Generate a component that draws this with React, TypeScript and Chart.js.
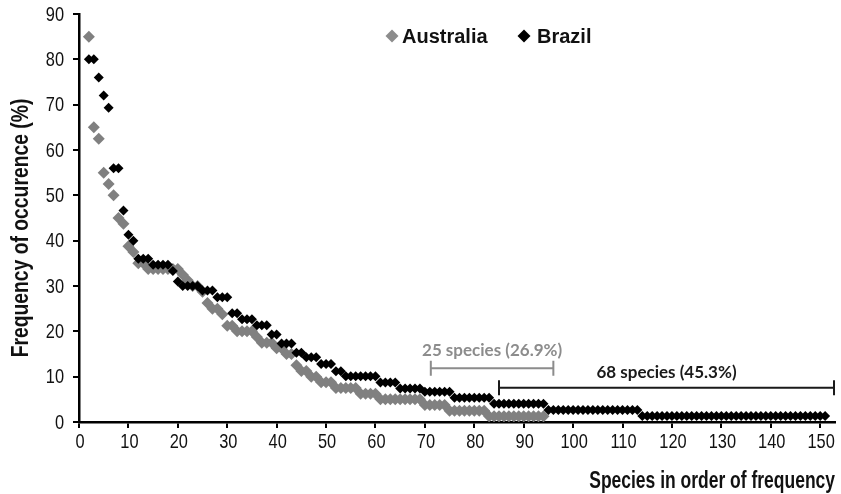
import React, { useEffect, useRef } from 'react';
import { Chart, registerables } from 'chart.js';

Chart.register(...registerables);

// ---- data ----
const FIRST_RANK = 2; // species ranks in the source chart start at 2
const seriesNames = ['Australia', 'Brazil'];

const australiaFreq = [
  85, 65, 62.5, 55, 52.5, 50, 45, 43.75, 38.75, 37.5, 35, 35,
  33.75, 33.75, 33.75, 33.75, 33.75, 33.75, 33.75,
  32.5, 31.25, 30, 30, 28.75, 26.25, 25, 25, 23.75, 21.25, 21.25,
  20, 20, 20, 20, 18.75, 17.5, 17.5, 17.5, 16.25, 16.25, 15, 15,
  12.5, 11.25, 11.25, 10, 10, 8.75, 8.75, 8.75,
  7.5, 7.5, 7.5, 7.5, 7.5, 6.25, 6.25, 6.25, 6.25,
  5, 5, 5, 5, 5, 5, 5, 5, 5,
  3.75, 3.75, 3.75, 3.75, 3.75,
  2.5, 2.5, 2.5, 2.5, 2.5, 2.5, 2.5, 2.5,
  1.25, 1.25, 1.25, 1.25, 1.25, 1.25, 1.25, 1.25, 1.25, 1.25, 1.25, 1.25,
];

const brazilFreq = [
  80, 80, 76, 72, 69.33, 56, 56, 46.67, 41.33, 40,
  36, 36, 36, 34.67, 34.67, 34.67, 34.67, 33.33, 31,
  30, 30, 30, 30, 29, 29, 29, 27.5, 27.5, 27.5,
  24, 24, 22.67, 22.67, 22.67, 21.33, 21.33, 21.33, 19.3, 19.3,
  17.3, 17.3, 17.3, 15.3, 15.3, 14.3, 14.3, 14.3, 12.8, 12.8, 12.8,
  11.2, 11.2, 10.1, 10.1, 10.1, 10.1, 10.1, 10.1, 10.1,
  8.7, 8.7, 8.7, 8.7, 7.4, 7.4, 7.4, 7.4, 7.4,
  6.67, 6.67, 6.67, 6.67, 6.67, 6.67,
  5.33, 5.33, 5.33, 5.33, 5.33, 5.33, 5.33, 5.33,
  4, 4, 4, 4, 4, 4, 4, 4, 4, 4, 4,
  2.67, 2.67, 2.67, 2.67, 2.67, 2.67, 2.67, 2.67, 2.67, 2.67,
  2.67, 2.67, 2.67, 2.67, 2.67, 2.67, 2.67, 2.67, 2.67,
  1.33, 1.33, 1.33, 1.33, 1.33, 1.33, 1.33, 1.33, 1.33, 1.33,
  1.33, 1.33, 1.33, 1.33, 1.33, 1.33, 1.33, 1.33, 1.33, 1.33,
  1.33, 1.33, 1.33, 1.33, 1.33, 1.33, 1.33, 1.33, 1.33, 1.33,
  1.33, 1.33, 1.33, 1.33, 1.33, 1.33, 1.33, 1.33,
];

const xTickValues = [0, 10, 20, 30, 40, 50, 60, 70, 80, 90, 100, 110, 120, 130, 140, 150];
const yTickValues = [0, 10, 20, 30, 40, 50, 60, 70, 80, 90];

const bracketLabels = ['25 species (26.9%)', '68 species (45.3%)'];
const bracketFrom = [71.2, 85];
const bracketTo = [96, 152.8];
const bracketLevel = [11.85, 7.55];

const xTitle = 'Species in order of frequency';
const yTitle = 'Frequency of occurence (%)';

// ---- styles ----
const GRAY = '#808080';
const BLACK = '#000000';
const SANS = "'Liberation Sans', Arial, sans-serif";
const LABEL_FONT = "Lato, 'Open Sans', sans-serif";

function toPoints(values: number[]) {
  return values.map((v, i) => ({ x: FIRST_RANK + i, y: v }));
}

function diamond(ctx: CanvasRenderingContext2D, cx: number, cy: number, r: number, color: string) {
  ctx.beginPath();
  ctx.moveTo(cx - r, cy);
  ctx.lineTo(cx, cy - r);
  ctx.lineTo(cx + r, cy);
  ctx.lineTo(cx, cy + r);
  ctx.closePath();
  ctx.fillStyle = color;
  ctx.fill();
}

// condensed text: regular face squeezed horizontally
function narrowText(
  ctx: CanvasRenderingContext2D, text: string, x: number, y: number,
  sx: number, align: CanvasTextAlign, rotate = 0,
) {
  ctx.save();
  ctx.translate(x, y);
  if (rotate) ctx.rotate(rotate);
  ctx.scale(sx, 1);
  ctx.textAlign = align;
  ctx.textBaseline = 'middle';
  ctx.fillText(text, 0, 0);
  ctx.restore();
}

const overlayPlugin = {
  id: 'overlay',
  afterDraw(chart: any) {
    const { ctx } = chart;
    const xs = chart.scales.x;
    const ys = chart.scales.y;
    ctx.save();

    // tick labels
    ctx.fillStyle = '#111';
    ctx.font = `21px ${SANS}`;
    xTickValues.forEach((v) => {
      narrowText(ctx, String(v), xs.getPixelForValue(v) + 1, 442, 0.78, 'center');
    });
    yTickValues.forEach((v) => {
      narrowText(ctx, String(v), 64, ys.getPixelForValue(v) + 1, 0.78, 'right');
    });

    // brackets
    const bracketColors = ['#8c8c8c', '#1a1a1a'];
    const textOffsets = [18, 15];
    bracketLabels.forEach((label, i) => {
      const x1 = xs.getPixelForValue(bracketFrom[i]);
      const x2 = xs.getPixelForValue(bracketTo[i]);
      const yy = ys.getPixelForValue(bracketLevel[i]);
      ctx.strokeStyle = bracketColors[i];
      ctx.lineWidth = 2;
      ctx.beginPath();
      ctx.moveTo(x1, yy);
      ctx.lineTo(x2, yy);
      ctx.moveTo(x1, yy - 7.5);
      ctx.lineTo(x1, yy + 7.5);
      ctx.moveTo(x2, yy - 7.5);
      ctx.lineTo(x2, yy + 7.5);
      ctx.stroke();
      ctx.fillStyle = bracketColors[i];
      ctx.font = `bold 17px ${LABEL_FONT}`;
      ctx.textAlign = 'center';
      ctx.textBaseline = 'middle';
      ctx.fillText(label, (x1 + x2) / 2, yy - textOffsets[i]);
    });

    // legend
    ctx.font = `bold 20px ${SANS}`;
    ctx.textAlign = 'left';
    ctx.textBaseline = 'middle';
    diamond(ctx, 392, 36, 6.5, '#8c8c8c');
    ctx.fillStyle = '#111';
    ctx.fillText(seriesNames[0], 402, 37);
    diamond(ctx, 524, 36, 6.5, BLACK);
    ctx.fillStyle = '#111';
    ctx.fillText(seriesNames[1], 537, 37);

    // axis titles
    ctx.font = `bold 23px ${SANS}`;
    ctx.fillStyle = '#111';
    narrowText(ctx, xTitle, 835, 482, 0.76, 'right');
    narrowText(ctx, yTitle, 22, 228, 0.84, 'center', -Math.PI / 2);

    ctx.restore();
  },
};

export default function App() {
  const canvasRef = useRef<HTMLCanvasElement | null>(null);

  useEffect(() => {
    if (!canvasRef.current) return;
    const chart = new Chart(canvasRef.current, {
      type: 'scatter',
      data: {
        datasets: [
          {
            label: seriesNames[0],
            data: toPoints(australiaFreq),
            pointStyle: 'rectRot',
            pointRadius: 6,
            pointBackgroundColor: GRAY,
            pointBorderWidth: 0,
            order: 1,
          },
          {
            label: seriesNames[1],
            data: toPoints(brazilFreq),
            pointStyle: 'rectRot',
            pointRadius: 5,
            pointBackgroundColor: BLACK,
            pointBorderWidth: 0,
            order: 0,
          },
        ],
      },
      options: {
        responsive: false,
        animation: false,
        devicePixelRatio: 1,
        layout: { padding: { top: 14, right: 4, left: 0, bottom: 0 } },
        plugins: {
          legend: { display: false },
          tooltip: { enabled: false },
        },
        scales: {
          x: {
            type: 'linear',
            min: 0,
            max: 153,
            afterFit: (s: any) => { s.height = 72; },
            afterBuildTicks: (s: any) => { s.ticks = xTickValues.map((v) => ({ value: v })); },
            ticks: { display: false, includeBounds: false, autoSkip: false },
            grid: { drawOnChartArea: false, drawTicks: true, tickLength: 6, lineWidth: 2, color: '#000' },
            border: { display: true, color: '#000', width: 2.5 },
          },
          y: {
            type: 'linear',
            min: 0,
            max: 90,
            afterFit: (s: any) => { s.width = 79; },
            afterBuildTicks: (s: any) => { s.ticks = yTickValues.map((v) => ({ value: v })); },
            ticks: { display: false, autoSkip: false },
            grid: { drawOnChartArea: false, drawTicks: true, tickLength: 6, lineWidth: 2, color: '#000' },
            border: { display: true, color: '#000', width: 2.5 },
          },
        },
      },
      plugins: [overlayPlugin],
    });
    return () => chart.destroy();
  }, []);

  return (
    <div style={{ position: 'absolute', left: 0, top: 0, width: 841, height: 494, background: '#fff' }}>
      <canvas ref={canvasRef} width={841} height={494} style={{ display: 'block' }} />
    </div>
  );
}
